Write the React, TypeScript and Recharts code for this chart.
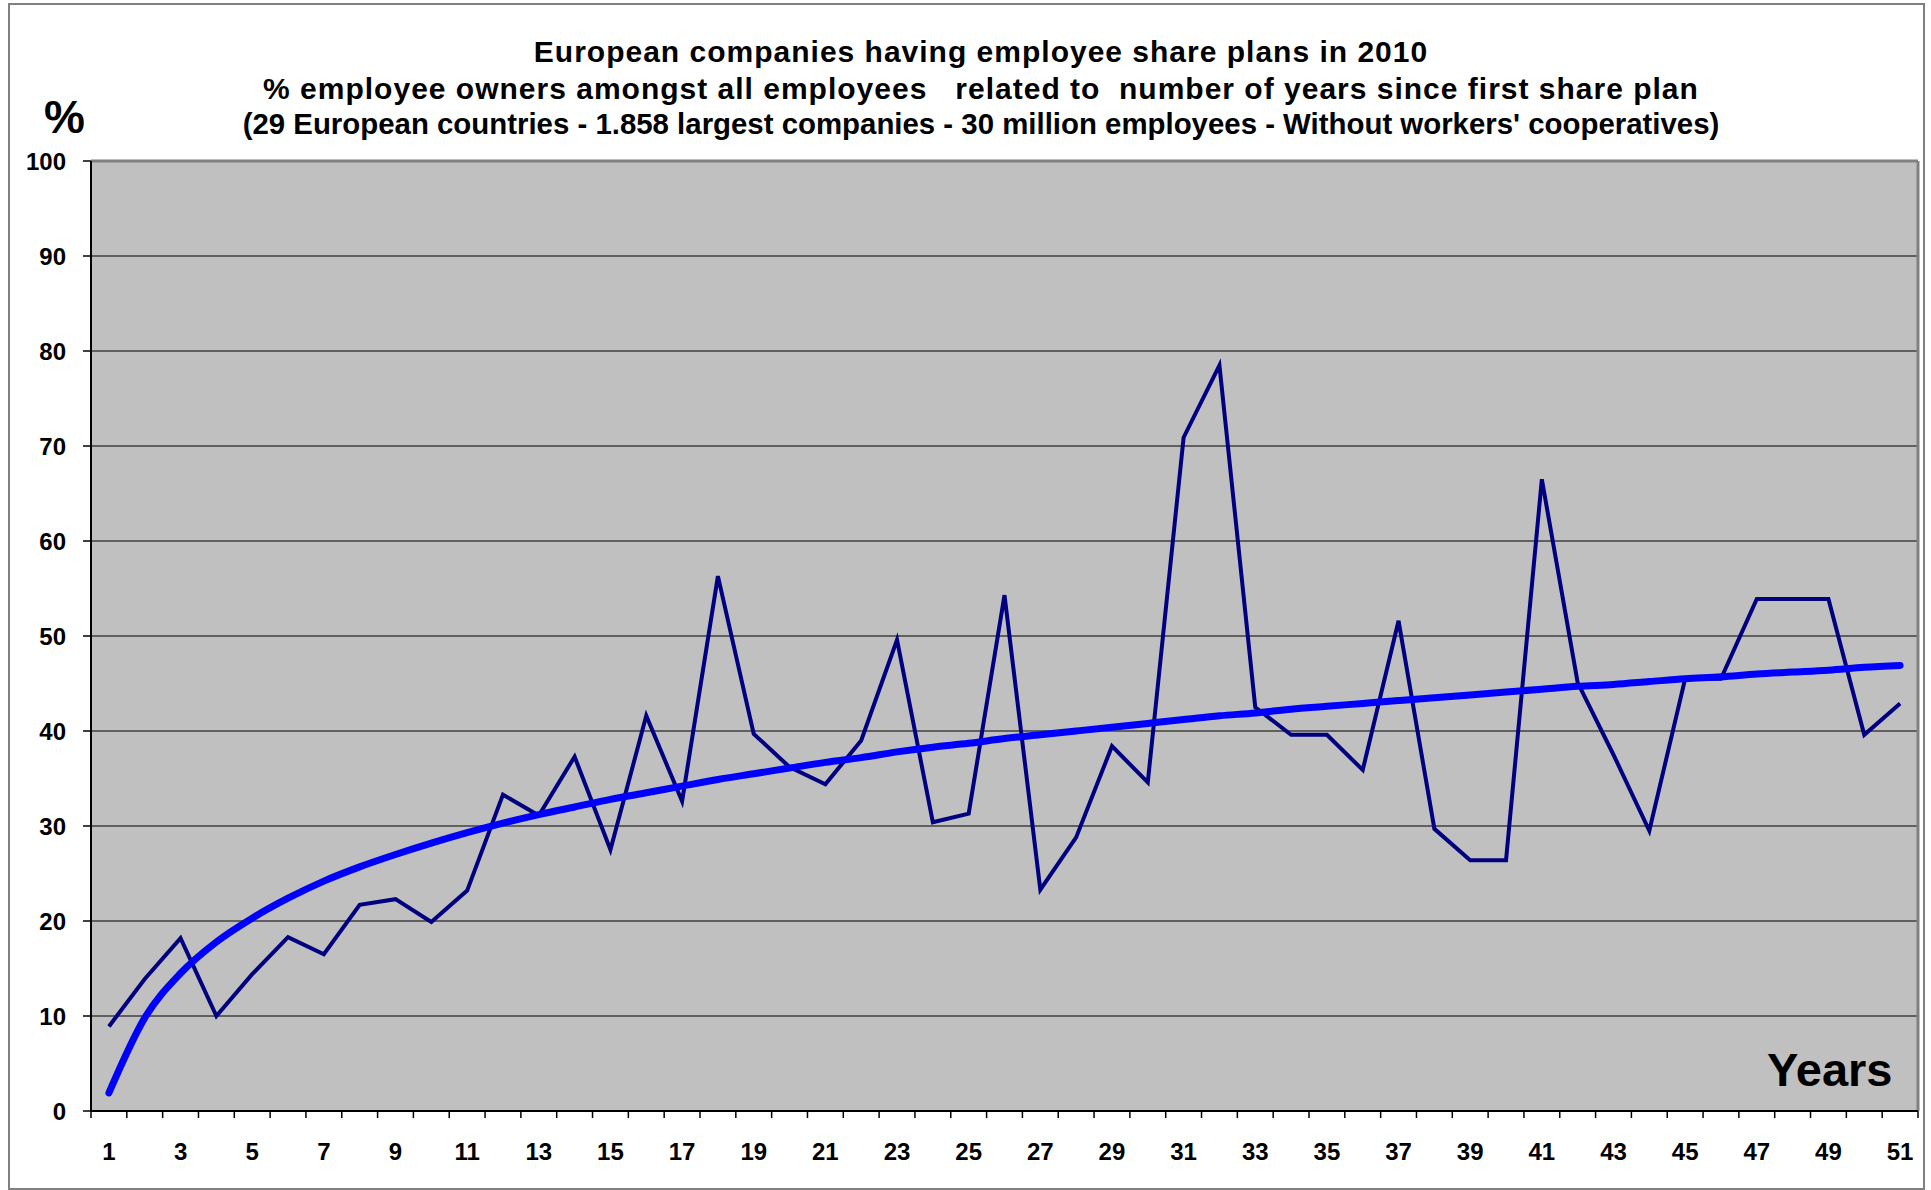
import { CartesianGrid, Line, LineChart, ReferenceLine, XAxis, YAxis } from "recharts";

const years = [
  1, 2, 3, 4, 5, 6, 7, 8, 9, 10, 11, 12, 13, 14, 15, 16, 17, 18, 19, 20, 21, 22, 23, 24, 25, 26,
  27, 28, 29, 30, 31, 32, 33, 34, 35, 36, 37, 38, 39, 40, 41, 42, 43, 44, 45, 46, 47, 48, 49, 50, 51,
];

// % employee owners amongst all employees
const ownersPct = [
  8.9, 13.9, 18.2, 10.0, 14.4, 18.3, 16.5, 21.7, 22.3, 19.9, 23.2, 33.3, 31.1, 37.3, 27.5, 41.6,
  32.6, 56.3, 39.7, 36.2, 34.4, 39.0, 49.6, 30.4, 31.3, 54.3, 23.3, 28.8, 38.4, 34.6, 70.9, 78.5,
  42.5, 39.6, 39.6, 35.9, 51.6, 29.7, 26.4, 26.4, 66.5, 45.1, 37.5, 29.5, 45.5, 45.5, 53.9, 53.9,
  53.9, 39.6, 42.9,
];

// logarithmic trend line
const trendPct = [
  1.9, 9.8, 14.5, 17.8, 20.3, 22.4, 24.2, 25.7, 27.0, 28.2, 29.3, 30.3, 31.2, 32.0, 32.8, 33.5,
  34.2, 34.9, 35.5, 36.1, 36.7, 37.2, 37.8, 38.3, 38.7, 39.2, 39.6, 40.0, 40.4, 40.8, 41.2, 41.6,
  41.9, 42.3, 42.6, 42.9, 43.2, 43.5, 43.8, 44.1, 44.4, 44.7, 44.9, 45.2, 45.5, 45.7, 46.0, 46.2,
  46.4, 46.7, 46.9,
];

const yTicks = [0, 10, 20, 30, 40, 50, 60, 70, 80, 90, 100];
const xLabels = [1, 3, 5, 7, 9, 11, 13, 15, 17, 19, 21, 23, 25, 27, 29, 31, 33, 35, 37, 39, 41, 43, 45, 47, 49, 51];

const titleLines = [
  "European companies having employee share plans in 2010",
  "% employee owners amongst all employees   related to  number of years since first share plan",
  "(29 European countries - 1.858 largest companies - 30 million employees - Without workers' cooperatives)",
];

const font = "'Liberation Sans', Arial, sans-serif";

const rows = years.map((year, i) => ({ year, owners: ownersPct[i], trend: trendPct[i] }));

// tick marks sit between the years, labels on every second year
const boundaries = [...years.map((y) => y - 0.5), years[years.length - 1] + 0.5];
const xTicks = [...boundaries, ...xLabels].sort((a, b) => a - b);

function YearTick(props: any) {
  const { x, y, payload } = props;
  const v = payload.value;
  if (!Number.isInteger(v)) {
    return <line x1={x} x2={x} y1={y} y2={y + 7} stroke="#000" strokeWidth={1.5} />;
  }
  return (
    <text x={x} y={y + 49} textAnchor="middle" fill="#000" fontSize={24} fontWeight={700} fontFamily={font}>
      {v}
    </text>
  );
}

export default function App() {
  return (
    <div style={{ position: "absolute", left: 0, top: 0, width: 1931, height: 1190, background: "#fff" }}>
      <div
        style={{
          position: "absolute",
          left: 8,
          top: 3,
          width: 1913,
          height: 1183,
          border: "2px solid #808080",
        }}
      />
      <LineChart
        width={1931}
        height={1190}
        data={rows}
        margin={{ top: 161, right: 13, bottom: 19, left: 11 }}
      >
        <CartesianGrid vertical={false} fill="#C0C0C0" stroke="#404040" strokeWidth={1.5} />
        <XAxis
          type="number"
          dataKey="year"
          domain={[0.5, 51.5]}
          allowDataOverflow
          ticks={xTicks}
          interval={0}
          tickLine={false}
          tickSize={0}
          tickMargin={0}
          height={60}
          axisLine={{ stroke: "#000", strokeWidth: 2 }}
          tick={<YearTick />}
        />
        <YAxis
          domain={[0, 100]}
          ticks={yTicks}
          interval={0}
          width={80}
          tickSize={8}
          tickMargin={17}
          axisLine={{ stroke: "#000", strokeWidth: 2 }}
          tickLine={{ stroke: "#000", strokeWidth: 1.5 }}
          tick={{ fill: "#000", fontSize: 24, fontWeight: 700, fontFamily: font }}
        />
        <ReferenceLine y={100} stroke="#808080" strokeWidth={3} />
        <ReferenceLine x={51.5} stroke="#808080" strokeWidth={3} />
        <Line
          type="linear"
          dataKey="owners"
          stroke="#000080"
          strokeWidth={4}
          dot={false}
          isAnimationActive={false}
        />
        <Line
          type="monotone"
          dataKey="trend"
          stroke="#0000FF"
          strokeWidth={7}
          strokeLinecap="round"
          dot={false}
          isAnimationActive={false}
        />
      </LineChart>
      {titleLines.map((t, i) => (
        <div
          key={i}
          style={{
            position: "absolute",
            left: 0,
            width: 1962,
            top: [36, 73, 108][i],
            textAlign: "center",
            fontFamily: font,
            fontWeight: 700,
            fontSize: i < 2 ? 30 : 29.4,
            letterSpacing: i < 2 ? 1 : 0,
            lineHeight: "32px",
            whiteSpace: "pre",
            color: "#000",
          }}
        >
          {t}
        </div>
      ))}
      <div
        style={{
          position: "absolute",
          left: 44,
          top: 92,
          fontFamily: font,
          fontWeight: 700,
          fontSize: 46,
          lineHeight: "50px",
          color: "#000",
        }}
      >
        %
      </div>
      <div
        style={{
          position: "absolute",
          left: 1767,
          top: 1042,
          fontFamily: font,
          fontWeight: 700,
          fontSize: 47,
          lineHeight: "56px",
          color: "#000",
        }}
      >
        Years
      </div>
    </div>
  );
}
